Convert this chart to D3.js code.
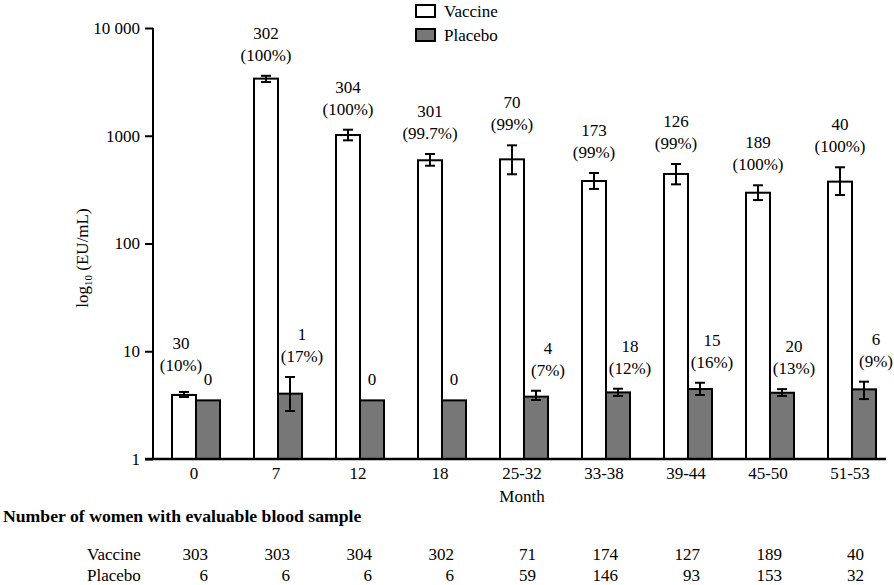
<!DOCTYPE html>
<html><head><meta charset="utf-8">
<script src="https://cdn.jsdelivr.net/npm/d3@7"></script>
<style>body{margin:0;background:#fff}svg{display:block}text{font-family:"Liberation Serif","Times New Roman",serif;fill:#000}</style>
</head><body><svg id="c" width="894" height="585"></svg>
<script>
const categories = ["0","7","12","18","25-32","33-38","39-44","45-50","51-53"];
const vaccineGMT  = [3.93, 3390, 1016, 592, 604, 380, 442, 296, 375];
const vaccineLow  = [3.76, 3150, 907, 527, 439, 321, 354, 253, 282];
const vaccineHigh = [4.19, 3600, 1138, 677, 815, 451, 547, 347, 510];
const placeboGMT  = [3.5, 4.04, 3.5, 3.5, 3.79, 4.15, 4.46, 4.12, 4.43];
const placeboLow  = [null, 2.79, null, null, 3.53, 3.85, 3.93, 3.85, 3.6];
const placeboHigh = [null, 5.77, null, null, 4.30, 4.49, 5.1, 4.45, 5.22];
const vaccinePos = ["30","302","304","301","70","173","126","189","40"];
const vaccinePct = ["10%","100%","100%","99.7%","99%","99%","99%","100%","100%"];
const placeboPos = ["0","1","0","0","4","18","15","20","6"];
const placeboPct = [null,"17%",null,null,"7%","12%","16%","13%","9%"];
const nVaccine = [303,303,304,302,71,174,127,189,40];
const nPlacebo = [6,6,6,6,59,146,93,153,32];
const yTicks = [1,10,100,1000,10000];
const yTickLabels = ["1","10","100","1000","10 000"];
const seriesNames = ["Vaccine","Placebo"];

const svg = d3.select("#c");
const FS = 17;
const x = d3.scaleBand().domain(categories).range([155, 893]);
const y = d3.scaleLog().domain([1, 10000]).range([459, 28]);
const bw = 24;
const colors = ["#ffffff", "#777777"];

// axes
const yAxis = svg.append("g").attr("transform","translate(153,0)")
  .call(d3.axisLeft(y).tickValues(yTicks).tickFormat((d,i)=>yTickLabels[i]).tickSize(8).tickPadding(5));
yAxis.select(".domain").remove();
yAxis.selectAll("line").attr("stroke","#000").attr("stroke-width",2);
yAxis.selectAll("text").attr("font-size",FS).style("font-family","Liberation Serif");
svg.append("line").attr("x1",153).attr("x2",153).attr("y1",y(10000)).attr("y2",y(1)).attr("stroke","#000").attr("stroke-width",2);

// bars
const series = [
  {vals: vaccineGMT, lo: vaccineLow, hi: vaccineHigh, off: -bw},
  {vals: placeboGMT, lo: placeboLow, hi: placeboHigh, off: 0}
];
series.forEach((s, si) => {
  const g = svg.append("g");
  categories.forEach((c, i) => {
    const cx = x(c) + x.bandwidth()/2 + s.off;
    g.append("rect").attr("x", cx).attr("y", y(s.vals[i])).attr("width", bw)
      .attr("height", y(1) - y(s.vals[i])).attr("fill", colors[si])
      .attr("stroke","#000").attr("stroke-width",2);
    if (s.lo[i] != null) {
      const mx = cx + bw/2;
      g.append("line").attr("x1",mx).attr("x2",mx).attr("y1",y(s.hi[i])).attr("y2",y(s.lo[i])).attr("stroke","#000").attr("stroke-width",2);
      [s.hi[i], s.lo[i]].forEach(v => g.append("line").attr("x1",mx-5).attr("x2",mx+5).attr("y1",y(v)).attr("y2",y(v)).attr("stroke","#000").attr("stroke-width",2));
    }
  });
});

// x axis line
svg.append("line").attr("x1",145).attr("x2",886).attr("y1",y(1)).attr("y2",y(1)).attr("stroke","#000").attr("stroke-width",2.5);

// x tick labels
categories.forEach(c => {
  svg.append("text").attr("x", x(c)+x.bandwidth()/2 - 2).attr("y", 479).attr("text-anchor","middle").attr("font-size",FS).text(c);
});
svg.append("text").attr("x", x("25-32")+x.bandwidth()/2 - 2).attr("y", 502).attr("text-anchor","middle").attr("font-size",FS).text("Month");

// annotations
function label(cx, top, l1, l2) {
  const t = svg.append("g");
  if (l2) {
    t.append("text").attr("x",cx).attr("y",top-13).attr("text-anchor","middle").attr("font-size",FS).text("(" + l2 + ")");
    t.append("text").attr("x",cx).attr("y",top-35).attr("text-anchor","middle").attr("font-size",FS).text(l1);
  } else {
    t.append("text").attr("x",cx).attr("y",top-13).attr("text-anchor","middle").attr("font-size",FS).text(l1);
  }
}
categories.forEach((c, i) => {
  const center = x(c) + x.bandwidth()/2;
  const vTop = y(vaccineHigh[i]);
  label(center - bw/2 - (i===0?3:0), vTop - (i===0?8:2), vaccinePos[i], vaccinePct[i]);
  const pTop = y(placeboHigh[i] != null ? placeboHigh[i] : placeboGMT[i]);
  label(center + bw/2 + (placeboPct[i] ? 12 : 0), pTop - 2, placeboPos[i], placeboPct[i]);
});

// y axis title
const yt = svg.append("text").attr("transform","translate(88,258) rotate(-90)").attr("text-anchor","middle").attr("font-size",FS);
yt.append("tspan").text("log");
yt.append("tspan").attr("font-size",11).attr("dy",4).text("10");
yt.append("tspan").attr("dy",-4).text(" (EU/mL)");

// legend
seriesNames.forEach((n, i) => {
  svg.append("rect").attr("x",416).attr("y",5 + i*24).attr("width",19).attr("height",12)
    .attr("fill",colors[i]).attr("stroke","#000").attr("stroke-width",2);
  svg.append("text").attr("x",444).attr("y",17 + i*24).attr("font-size",FS).text(n);
});

// table
svg.append("text").attr("x",3).attr("y",522).attr("font-size",17.7).attr("font-weight","bold").text("Number of women with evaluable blood sample");
const rows = [nVaccine, nPlacebo];
seriesNames.forEach((n, r) => {
  const ry = 560 + r*21;
  svg.append("text").attr("x",87).attr("y",ry).attr("font-size",FS).text(n);
  categories.forEach((c, i) => {
    svg.append("text").attr("x", x(c)+x.bandwidth()/2 + 12).attr("y", ry).attr("text-anchor","end").attr("font-size",FS).text(rows[r][i]);
  });
});
</script></body></html>
